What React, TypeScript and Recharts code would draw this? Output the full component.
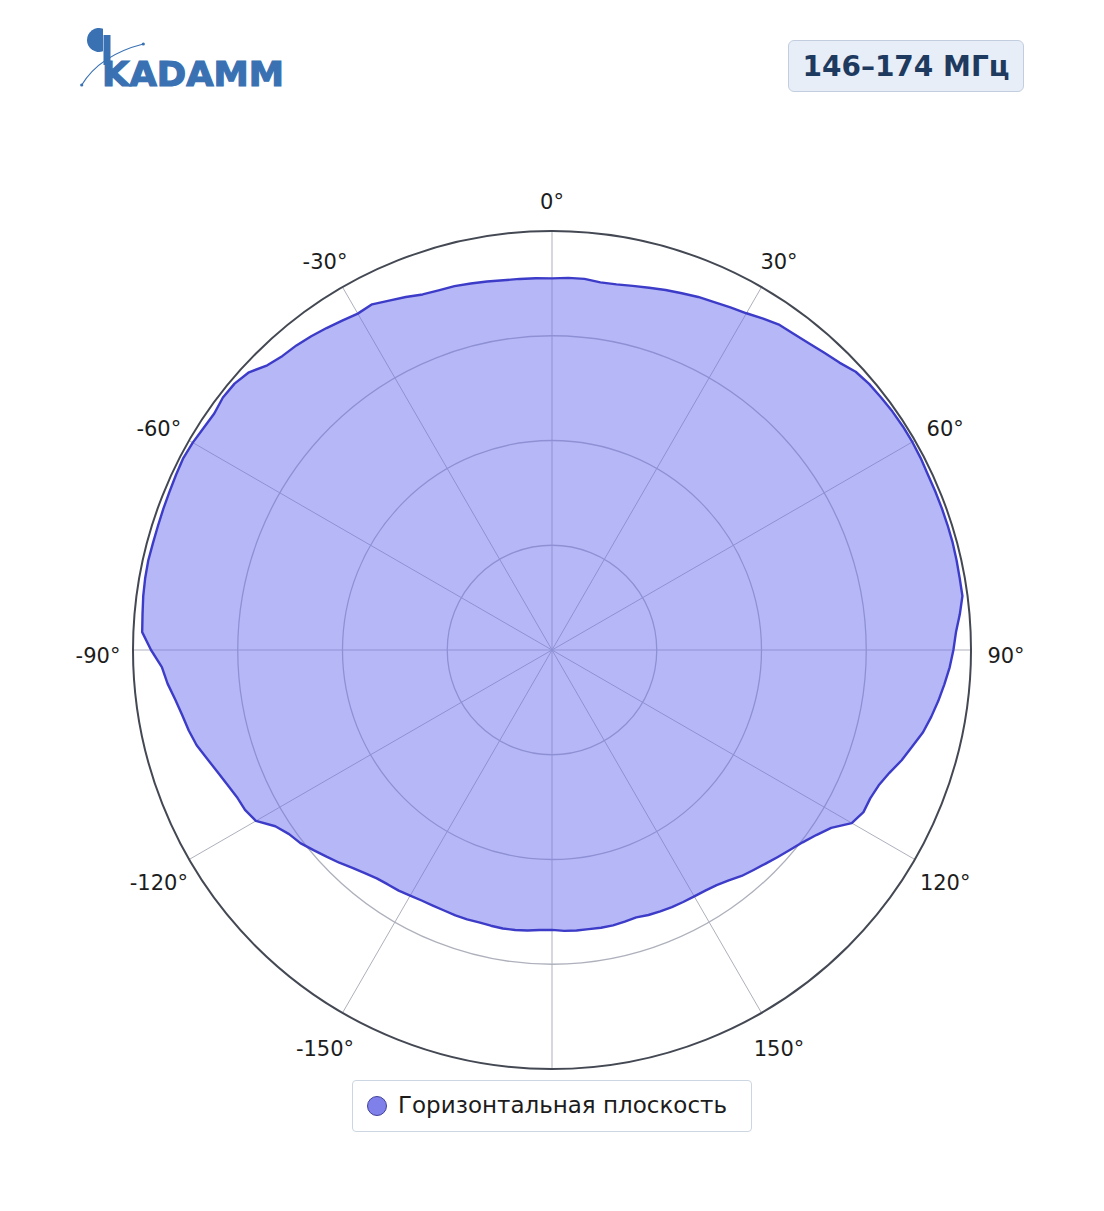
import React from 'react'
import { RadarChart, Radar, PolarGrid, PolarAngleAxis, PolarRadiusAxis } from 'recharts'

// azimuth in degrees, clockwise from the top
const angles = [
  0, 2.5, 5, 7.5, 10, 12.5, 15, 17.5, 20, 22.5, 25, 27.5, 30, 32.5, 35, 37.5, 40, 42.5,
  45, 47.5, 50, 52.5, 55, 57.5, 60, 62.5, 65, 67.5, 70, 72.5, 75, 77.5, 80, 82.5, 85, 87.5,
  90, 92.5, 95, 97.5, 100, 102.5, 105, 107.5, 110, 112.5, 115, 117.5, 120, 122.5, 125, 127.5, 130, 132.5,
  135, 137.5, 140, 142.5, 145, 147.5, 150, 152.5, 155, 157.5, 160, 162.5, 165, 167.5, 170, 172.5, 175, 177.5,
  180, 182.5, 185, 187.5, 190, 192.5, 195, 197.5, 200, 202.5, 205, 207.5, 210, 212.5, 215, 217.5, 220, 222.5,
  225, 227.5, 230, 232.5, 235, 237.5, 240, 242.5, 245, 247.5, 250, 252.5, 255, 257.5, 260, 262.5, 265, 267.5,
  270, 272.5, 275, 277.5, 280, 282.5, 285, 287.5, 290, 292.5, 295, 297.5, 300, 302.5, 305, 307.5, 310, 312.5,
  315, 317.5, 320, 322.5, 325, 327.5, 330, 332.5, 335, 337.5, 340, 342.5, 345, 347.5, 350, 352.5, 355, 357.5,
]

// normalised horizontal-plane pattern
const gain = [
  0.887, 0.889, 0.889, 0.885, 0.886, 0.89, 0.895, 0.901, 0.906, 0.912, 0.916, 0.922, 0.928, 0.938, 0.947, 0.95, 0.955, 0.962,
  0.97, 0.983, 0.988, 0.99, 0.992, 0.993, 0.993, 0.992, 0.99, 0.99, 0.99, 0.99, 0.99, 0.989, 0.988, 0.988, 0.977, 0.965,
  0.958, 0.95, 0.94, 0.93, 0.919, 0.907, 0.89, 0.875, 0.857, 0.844, 0.838, 0.838, 0.826, 0.79, 0.77, 0.754, 0.742, 0.731,
  0.721, 0.712, 0.704, 0.693, 0.685, 0.681, 0.679, 0.678, 0.677, 0.675, 0.673, 0.669, 0.671, 0.673, 0.673, 0.672, 0.672, 0.671,
  0.668, 0.669, 0.672, 0.674, 0.675, 0.674, 0.673, 0.674, 0.674, 0.673, 0.673, 0.674, 0.677, 0.681, 0.683, 0.687, 0.695, 0.705,
  0.718, 0.73, 0.743, 0.757, 0.766, 0.783, 0.816, 0.826, 0.83, 0.839, 0.85, 0.863, 0.878, 0.888, 0.896, 0.907, 0.921, 0.932,
  0.957, 0.979, 0.981, 0.984, 0.986, 0.987, 0.986, 0.986, 0.987, 0.988, 0.99, 0.992, 0.99, 0.986, 0.984, 0.99, 0.989, 0.981,
  0.961, 0.952, 0.949, 0.944, 0.938, 0.932, 0.927, 0.93, 0.92, 0.912, 0.903, 0.9, 0.899, 0.896, 0.893, 0.89, 0.889, 0.888,
]

const tickAngles = [0, 30, 60, 90, 120, 150, 210, 240, 270, 300, 330]
const tickTexts = ['0°', '30°', '60°', '90°', '120°', '150°', '-150°', '-120°', '-90°', '-60°', '-30°']
const spokeAngles = [0, 30, 60, 90, 120, 150, 180, 210, 240, 270, 300, 330]
const ringLevels = [0.25, 0.5, 0.75]

const bandLabel = '146–174 МГц'
const seriesName = 'Горизонтальная плоскость'

const CX = 552
const CY = 650
const R = 419
const FONT = '"DejaVu Sans", sans-serif'

const data = angles.map((a, i) => ({ angle: a, value: gain[i] }))

function AngleTick(props: any) {
  const { x, y, payload } = props
  const i = tickAngles.indexOf(payload.value)
  if (i < 0) return <g />
  return (
    <text x={x} y={y + 12.5} textAnchor="middle" fontSize={21} fill="#1c1c1c" fontFamily={FONT}>
      {tickTexts[i]}
    </text>
  )
}

function Logo() {
  const blue = '#3971b3'
  return (
    <svg width={320} height={110} style={{ position: 'absolute', left: 0, top: 0 }}>
      <path d="M103,28.7 A12,12 0 1 0 103,51.3 Z" fill={blue} />
      <rect x={103.5} y={35} width={7} height={30} fill={blue} />
      <text
        x={102}
        y={86}
        fontSize={34}
        fontWeight="bold"
        fontFamily={FONT}
        fill={blue}
        stroke={blue}
        strokeWidth={1.2}
        textLength={182}
        lengthAdjust="spacingAndGlyphs"
      >
        KADAMM
      </text>
      <path d="M81.7,85 Q100,55 143.3,44" fill="none" stroke={blue} strokeWidth={1.2} />
      <circle cx={81.7} cy={85} r={1.6} fill={blue} />
      <circle cx={143.3} cy={44} r={1.6} fill={blue} />
    </svg>
  )
}

export default function App() {
  return (
    <div style={{ position: 'absolute', left: 0, top: 0, width: 1104, height: 1211, background: '#fff', fontFamily: FONT }}>
      <Logo />
      <div
        style={{
          position: 'absolute',
          left: 788,
          top: 40,
          width: 236,
          height: 52,
          boxSizing: 'border-box',
          border: '1.5px solid #c2cee0',
          borderRadius: 6,
          background: '#e8eef7',
          color: '#1e3a5f',
          fontWeight: 'bold',
          fontSize: 28,
          display: 'flex',
          alignItems: 'center',
          justifyContent: 'center',
        }}
      >
        {bandLabel}
      </div>

      <div style={{ position: 'absolute', left: 0, top: 0 }}>
        <RadarChart
          width={1104}
          height={1211}
          data={data}
          cx={CX}
          cy={CY}
          outerRadius={R}
          startAngle={90}
          endAngle={-270}
          margin={{ top: 0, right: 0, bottom: 0, left: 0 }}
        >
          <PolarGrid gridType="circle" polarAngles={spokeAngles} polarRadius={[]} stroke="#aeb1bc" strokeWidth={1} />
          <PolarGrid
            gridType="circle"
            radialLines={false}
            polarAngles={[]}
            polarRadius={ringLevels.map((v) => v * R)}
            stroke="#aeb1bc"
            strokeWidth={1.3}
          />
          <PolarRadiusAxis domain={[0, 1]} tick={false} axisLine={false} tickCount={5} />
          <PolarAngleAxis dataKey="angle" axisLine={false} tickLine={false} tickSize={35} tick={<AngleTick />} />
          <Radar
            name={seriesName}
            dataKey="value"
            stroke="#3c3cc8"
            strokeWidth={2.4}
            strokeLinejoin="round"
            fill="#6e70ee"
            fillOpacity={0.5}
            isAnimationActive={false}
          />
          <PolarGrid
            gridType="circle"
            radialLines={false}
            polarAngles={[]}
            polarRadius={[R]}
            stroke="#434853"
            strokeWidth={2}
          />
        </RadarChart>
      </div>

      <div
        style={{
          position: 'absolute',
          left: 352,
          top: 1080,
          width: 400,
          height: 52,
          boxSizing: 'border-box',
          border: '1.5px solid #ccd5e2',
          borderRadius: 4,
          background: '#fff',
          display: 'flex',
          alignItems: 'center',
          paddingLeft: 13,
        }}
      >
        <svg width={22} height={22} style={{ marginRight: 10 }}>
          <circle cx={11} cy={11} r={9.5} fill="#8080ea" stroke="#40409a" strokeWidth={1} />
        </svg>
        <span style={{ fontSize: 23, color: '#1c1c1c', position: 'relative', top: -1 }}>{seriesName}</span>
      </div>
    </div>
  )
}
